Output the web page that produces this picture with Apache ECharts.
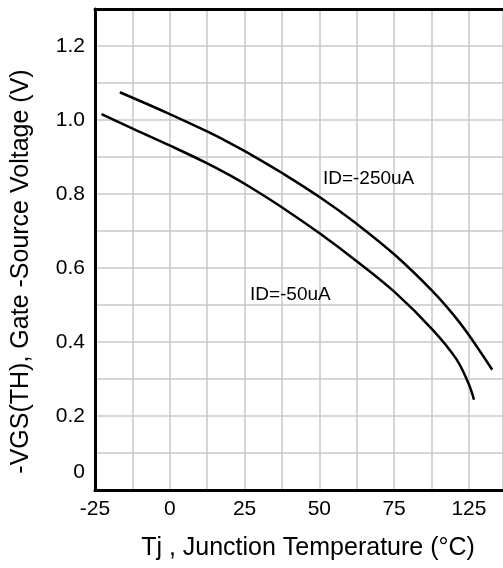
<!DOCTYPE html>
<html>
<head>
<meta charset="utf-8">
<script src="https://cdn.jsdelivr.net/npm/echarts@6/dist/echarts.min.js"></script>
<style>
  html, body { margin: 0; padding: 0; background: #fff; }
  #chart { width: 503px; height: 568px; }
</style>
</head>
<body>
<div id="chart"></div>
<script>
// Tj (°C) vs -VGS(TH) (V)
const id250 = [
  [-16.7, 1.075], [0, 1.016], [13, 0.967], [20, 0.938], [26.8, 0.908], [37.7, 0.856],
  [50.2, 0.791], [62.7, 0.718], [75.3, 0.635], [87.9, 0.537], [94.8, 0.474], [99.8, 0.421], [107.8, 0.325]
]
const id50 = [
  [-22.8, 1.016], [-12.2, 0.976], [0.3, 0.93], [13, 0.881], [20, 0.851], [26.8, 0.819], [37.7, 0.763],
  [50.2, 0.693], [62.7, 0.617], [75.3, 0.534], [87.9, 0.433], [95.7, 0.355], [99.8, 0.289], [101.7, 0.244]
]
// tick labels as printed (the chart skips "100")
const xTickValues = [-25, 0, 25, 50, 75, 100]
const xTickText = ['-25', '0', '25', '50', '75', '125']
const seriesNames = ['ID=-250uA', 'ID=-50uA']
const labelPos = [[51.2, 0.84], [26.8, 0.528]]

const sans = "'Liberation Sans', Arial, sans-serif"

const chart = echarts.init(document.getElementById('chart'))

const lineStyle = { color: '#000', width: 2.5 }
const makeSeries = (name, data, pos) => ({
  name,
  type: 'line',
  data,
  smooth: 0.4,
  showSymbol: false,
  lineStyle,
  markPoint: {
    symbol: 'circle',
    symbolSize: 0,
    data: [{ coord: pos }],
    label: {
      show: true,
      position: 'right',
      distance: 0,
      formatter: name,
      color: '#000',
      fontFamily: sans,
      fontSize: 19,
    },
  },
})

chart.setOption({
  backgroundColor: '#fff',
  animation: false,
  grid: { left: 95, right: 0, top: 9, bottom: 78 },
  xAxis: [
    {
      type: 'value',
      min: -25,
      max: 111.4,
      interval: 12.5,
      name: 'Tj , Junction Temperature (°C)',
      nameLocation: 'middle',
      nameGap: 46,
      nameTextStyle: { color: '#000', fontSize: 25, fontFamily: sans, padding: [0, 0, 0, 18] },
      axisLine: { onZero: false, lineStyle: { color: '#000', width: 3 } },
      axisTick: { show: false },
      axisLabel: {
        color: '#000',
        fontFamily: sans,
        fontSize: 21,
        margin: 9,
        showMaxLabel: false,
        formatter: (v) => {
          const i = xTickValues.indexOf(v)
          return i >= 0 ? xTickText[i] : ''
        },
      },
      splitLine: { lineStyle: { color: '#c8c8c8', width: 1.5 } },
    },
    {
      type: 'value',
      position: 'top',
      min: -25,
      max: 111.4,
      axisLine: { show: true, onZero: false, lineStyle: { color: '#000', width: 3 } },
      axisTick: { show: false },
      axisLabel: { show: false },
      splitLine: { show: false },
    },
  ],
  yAxis: {
    type: 'value',
    min: 0,
    max: 1.3,
    interval: 0.1,
    name: '-VGS(TH), Gate -Source Voltage (V)',
    nameLocation: 'middle',
    nameGap: 61,
    nameTextStyle: { color: '#000', fontSize: 25, fontFamily: sans, padding: [0, 44, 0, 0] },
    axisLine: { show: true, onZero: false, lineStyle: { color: '#000', width: 3 } },
    axisTick: { show: false },
    axisLabel: {
      color: '#000',
      fontFamily: sans,
      fontSize: 21,
      margin: 10,
      formatter: (v) => {
        const r = Math.round(v * 10)
        if (r === 0) return '{z|0}'
        return r % 2 === 0 && r <= 12 ? (r / 10).toFixed(1) : ''
      },
      rich: { z: { fontFamily: sans, fontSize: 21, color: '#000', padding: [0, 0, 36, 0] } },
    },
    splitLine: { lineStyle: { color: '#c8c8c8', width: 1.5 } },
  },
  series: seriesNames.map((n, i) => makeSeries(n, i === 0 ? id250 : id50, labelPos[i])),
})
</script>
</body>
</html>
